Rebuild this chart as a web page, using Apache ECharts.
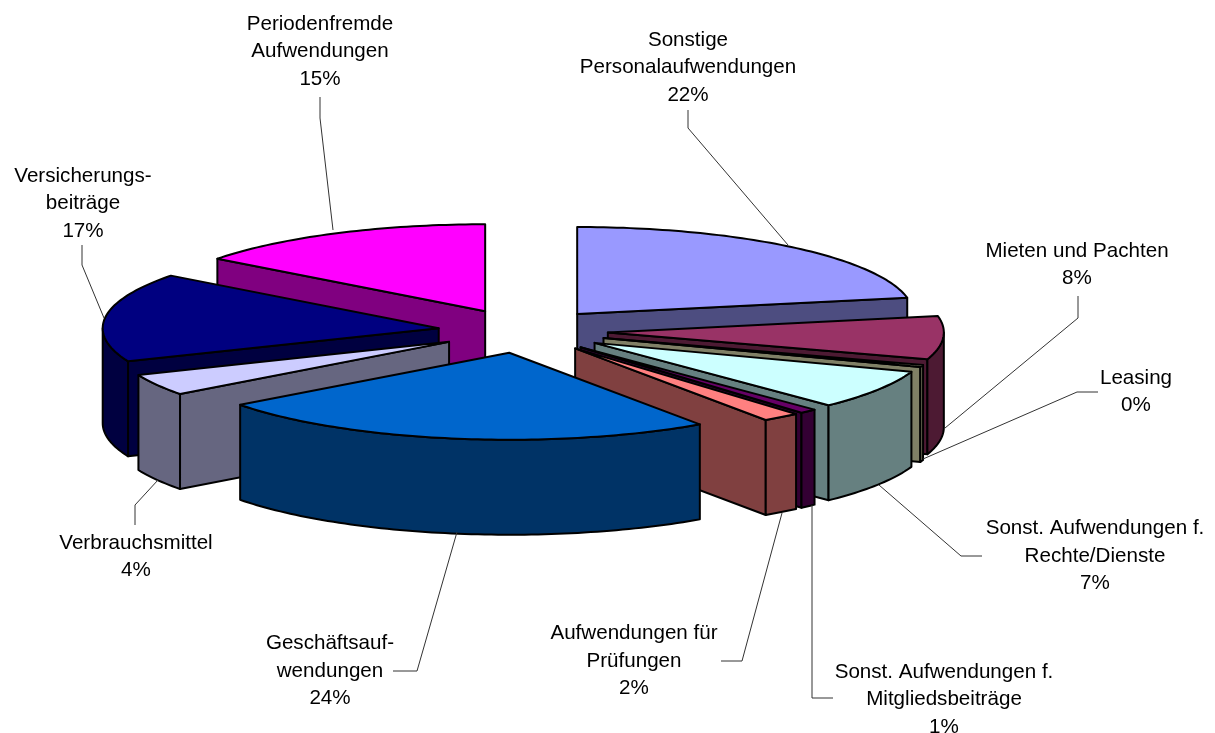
<!DOCTYPE html>
<html><head><meta charset="utf-8">
<style>html,body{margin:0;padding:0;background:#fff}#c{width:1215px;height:733px}</style>
<script src="https://cdn.jsdelivr.net/npm/echarts@6/dist/echarts.min.js"></script>
</head><body><div id="c"></div>
<script>
const categories = ['Sonstige\nPersonalaufwendungen','Mieten und Pachten','Leasing','Sonst. Aufwendungen f.\nRechte/Dienste','Sonst. Aufwendungen f.\nMitgliedsbeiträge','Aufwendungen für\nPrüfungen','Geschäftsauf-\nwendungen','Verbrauchsmittel','Versicherungs-\nbeiträge','Periodenfremde\nAufwendungen'];
const shareValues = [22, 8, 0.4, 7.34, 0.84, 1.82, 24.38, 4, 16.54, 14.68];
const percentLabels = ['22%','8%','0%','7%','1%','2%','24%','4%','17%','15%'];
const topColors = ['#9999FF','#993366','#FFFFCC','#CCFFFF','#660066','#FF8080','#0066CC','#CCCCFF','#000080','#FF00FF'];
const wallColors = ['#4D4D80','#4D1A33','#808066','#668080','#330033','#804040','#003366','#666680','#000040','#800080'];
// label centre and leader polyline for each slice (annotation layout, in the same order)
const labelCentres = [[688,67.5],[1077,265],[1136,392],[1095,556],[944,699.5],[634,661],[330,671],[136,557],[83,203.5],[320,51.5]];
const leaders = [
 [[688,110],[688,128],[788,245]],
 [[1078,296],[1078,318],[945,428]],
 [[1098,392],[1077,392],[923,459]],
 [[982,556],[961,556],[879,485]],
 [[833,698],[812,698],[812,505]],
 [[721,661],[742,661],[782,513]],
 [[393,671],[417,671],[457,532]],
 [[135,525],[135,505],[158,480]],
 [[82,245],[82,265],[104,318]],
 [[320,97],[320,118],[333,230]]
];

// Pie geometry (pixel units of the hidden axes)
const CX = 523, CY = 331, RX = 336, RY = 87, H = 95, EXPLODE = 85;
const total = shareValues.reduce((a,b)=>a+b,0);
const starts = []; let acc = 0;
shareValues.forEach(v => { starts.push(acc/total*2*Math.PI); acc += v; });

function slicePolys(i, value){
  const a = starts[i], b = a + value/total*2*Math.PI, m = (a+b)/2;
  const ax = CX + EXPLODE*Math.sin(m), ay = CY - EXPLODE*RY/RX*Math.cos(m);
  const rim = t => [ax + RX*Math.sin(t), ay - RY*Math.cos(t)];
  const down = p => [p[0], p[1] + H];
  const arc = (s,e) => { const n = Math.max(2, Math.ceil((e-s)/0.02)), o = [];
    for (let k=0;k<=n;k++) o.push(rim(s+(e-s)*k/n)); return o; };
  const apex = [ax,ay], polys = [];
  const faceA = Math.sin(a) < 0, faceB = Math.sin(b) > 0;
  if (faceA) polys.push({pts:[apex, rim(a), down(rim(a)), down(apex)], fill:wallColors[i]});
  if (faceB) polys.push({pts:[apex, rim(b), down(rim(b)), down(apex)], fill:wallColors[i]});
  const s = Math.max(a, Math.PI/2), e = Math.min(b, 3*Math.PI/2);
  if (e > s) { const top = arc(s,e); polys.push({pts: top.concat(top.slice().reverse().map(down)), fill:wallColors[i]}); }
  polys.push({pts:[apex].concat(arc(a,b)), fill:topColors[i]});
  return {polys, front: -Math.cos(m)};
}
const order = shareValues.map((v,i)=>[slicePolys(i,v).front,i]).sort((p,q)=>p[0]-q[0]).map(p=>p[1]);

const chart = echarts.init(document.getElementById('c'));
const labelGraphics = [];
categories.forEach((name,i)=>{
  labelGraphics.push({type:'polyline', silent:true, z:5, shape:{points:leaders[i]}, style:{stroke:'#333', lineWidth:1, fill:null}});
  labelGraphics.push({type:'text', silent:true, z:6, x:labelCentres[i][0], y:labelCentres[i][1],
    style:{text:name+'\n'+percentLabels[i], fill:'#000', font:'20.6px "Liberation Sans", Arial, sans-serif', align:'center', verticalAlign:'middle', lineHeight:27.6}});
});
chart.setOption({
  animation:false, backgroundColor:'#fff',
  grid:{left:0,right:0,top:0,bottom:0},
  xAxis:{type:'value',min:0,max:1215,show:false},
  yAxis:{type:'value',min:0,max:733,inverse:true,show:false},
  graphic:labelGraphics,
  series:[{
    type:'custom', coordinateSystem:'cartesian2d', clip:false,
    data:shareValues.map(v=>[v]),
    encode:{},
    renderItem(params, api){
      const i = params.dataIndex, rank = order.indexOf(i);
      const {polys} = slicePolys(i, api.value(0));
      return {type:'group', children:polys.map((p,k)=>({
        type:'polygon', z2:rank*10+k,
        shape:{points:p.pts.map(q=>api.coord(q))},
        style:{fill:p.fill, stroke:'#000', lineWidth:2, lineJoin:'round'}
      }))};
    }
  }]
});
</script></body></html>
